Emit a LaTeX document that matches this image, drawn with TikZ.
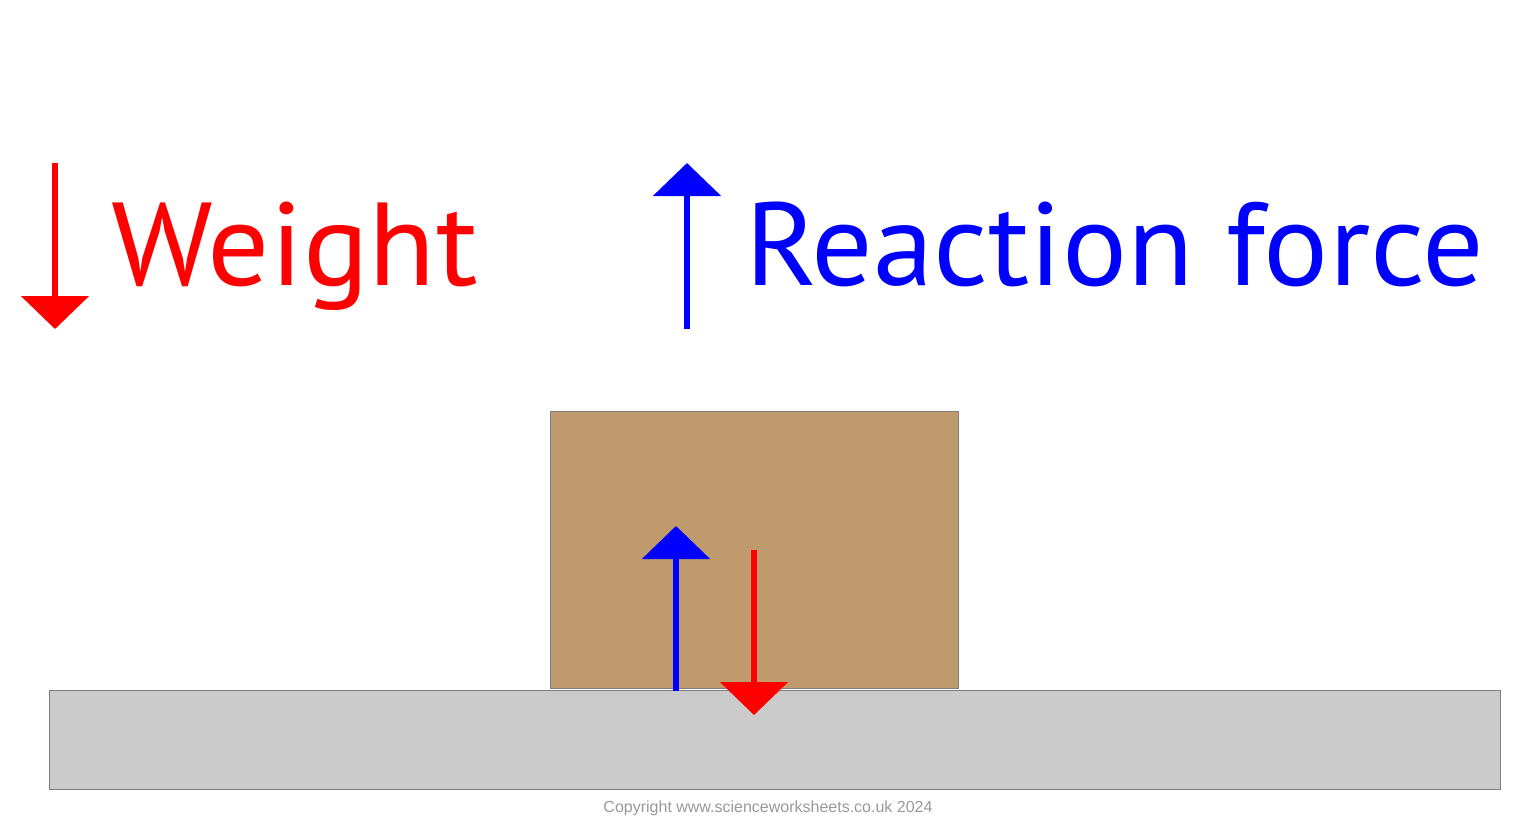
\documentclass[tikz,border=0pt]{standalone}
\usepackage{fontspec}
\setmainfont{PT Sans}
\newfontfamily\copyfont{Liberation Sans}
\usetikzlibrary{arrows.meta}
\definecolor{boxbrown}{HTML}{BF9A6C}
\definecolor{groundgray}{HTML}{CBCBCB}
\definecolor{edgegray}{HTML}{7F7F7F}
\definecolor{copygray}{HTML}{999999}
\begin{document}
\begin{tikzpicture}[x=1pt,y=-1pt,
  bigtip/.style={-{Triangle[width=67pt,length=33pt]}},
  force/.style={line width=6pt},
  label/.style={inner sep=0pt,anchor=base west,font=\fontsize{118}{118}\selectfont}]
\useasboundingbox (0,0) rectangle (1536,815);
% ground and box
\draw[fill=groundgray,draw=edgegray,line width=1pt] (49,690) rectangle (1500,789);
\draw[fill=boxbrown,draw=edgegray,line width=1pt] (550,411) rectangle (958,688);
% legend
\coordinate (w1) at (55,163); \coordinate (w2) at (55,329);
\draw[force,red,bigtip] (w1) -- (w2);
\node[label,text=red,xscale=1.04] (wl) at (111,285) {Weight};
\coordinate (r1) at (687,329); \coordinate (r2) at (687,163);
\draw[force,blue,bigtip] (r1) -- (r2);
\node[label,text=blue,xscale=1.03] (rl) at (745,285) {Reaction force};
% forces on box
\coordinate (b1) at (676,691); \coordinate (b2) at (676,526);
\draw[force,blue,bigtip] (b1) -- (b2);
\coordinate (d1) at (754,550); \coordinate (d2) at (754,715);
\draw[force,red,bigtip] (d1) -- (d2);
% copyright
\node[inner sep=0pt,anchor=base,text=copygray,font=\copyfont\fontsize{16}{16}\selectfont] (cp) at (768,812) {Copyright www.scienceworksheets.co.uk 2024};
\end{tikzpicture}
\end{document}
